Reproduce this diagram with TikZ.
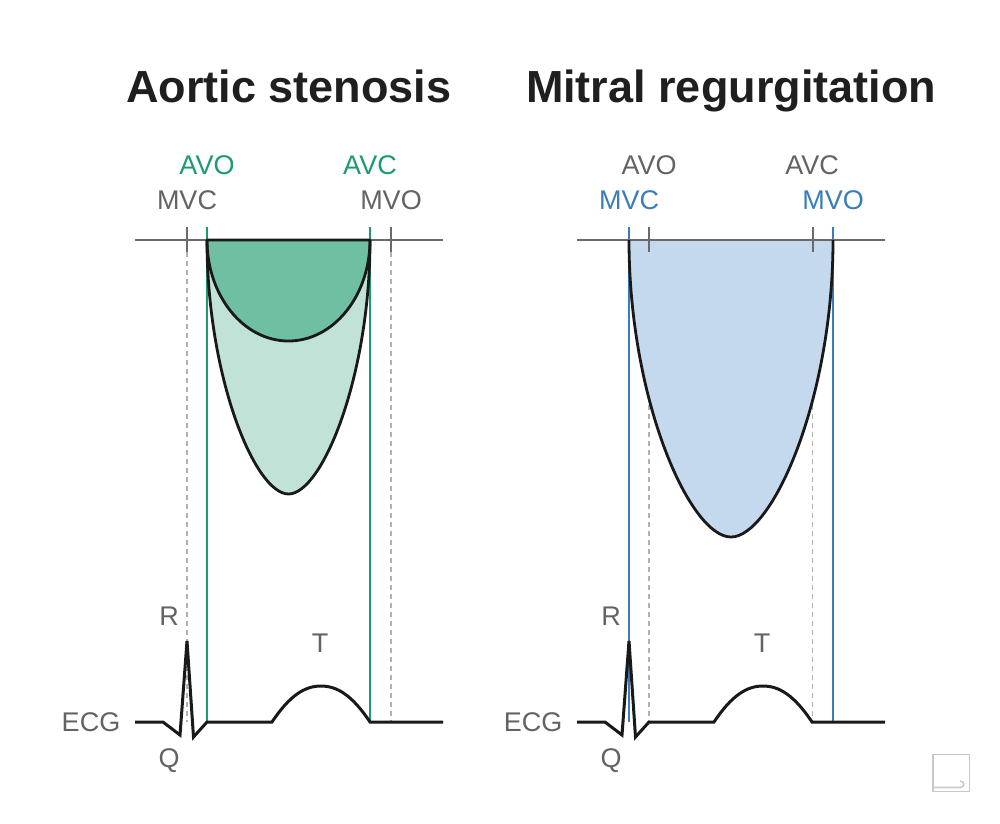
\documentclass[tikz,border=0pt]{standalone}
\usepackage{fontspec}
\setmainfont{Liberation Sans}
\definecolor{txtgray}{HTML}{636363}
\definecolor{axgray}{HTML}{6A6A6A}
\definecolor{dashgray}{HTML}{B0B0B0}
\definecolor{asgreen}{HTML}{1C9A72}
\definecolor{darkfill}{HTML}{6FBFA3}
\definecolor{lightfill}{HTML}{C0E2D7}
\definecolor{mrblue}{HTML}{3A7DBA}
\definecolor{bluefill}{HTML}{C4D9EE}
\definecolor{icongray}{HTML}{C8C8C8}
\tikzset{
  title/.style={font=\fontsize{45}{50}\selectfont\bfseries, text=black!88, inner sep=0, anchor=base},
  lbl/.style={font=\fontsize{27}{30}\selectfont, inner sep=0},
  axisline/.style={draw=axgray, line width=2.4pt},
  tickline/.style={draw=axgray, line width=2pt},
  guide/.style={draw=dashgray, line width=1.1pt, dash pattern=on 5pt off 4pt},
  greenline/.style={draw=asgreen, line width=2pt},
  blueline/.style={draw=mrblue, line width=2pt},
  outline/.style={draw=black!90, line width=2.8pt, line join=round},
  ecgline/.style={draw=black!90, line width=3pt},
  iconline/.style={draw=icongray, line width=1.6pt},
}
\begin{document}
\begin{tikzpicture}[x=1pt,y=-1pt]
\useasboundingbox (0,0) rectangle (1000,823);

% ---------- titles ----------
\node[title] (t1) at (289,102) {Aortic stenosis};
\node[title] (t2) at (731,102) {Mitral regurgitation};

% ---------- LEFT PANEL ----------
\coordinate (LaxA) at (135,240); \coordinate (LaxB) at (443,240);
\coordinate (LmvcT) at (187,227); \coordinate (LmvcB) at (187,252); \coordinate (LmvcE) at (187,722);
\coordinate (LmvoT) at (391,227); \coordinate (LmvoB) at (391,252); \coordinate (LmvoE) at (391,722);
\coordinate (LavoT) at (207,227); \coordinate (LavoE) at (207,722);
\coordinate (LavcT) at (370,227); \coordinate (LavcE) at (370,722);

\draw[guide] (LmvcB) -- (LmvcE);
\draw[guide] (LmvoB) -- (LmvoE);
\draw[greenline] (LavoT) -- (LavoE);
\draw[greenline] (LavcT) -- (LavcE);

% light (outer) region
\path[fill=lightfill] (207,240) .. controls (207,377) and (255,494) .. (288.5,494)
      .. controls (322,494) and (370,377) .. (370,240) -- cycle;
% dark (inner) region
\path[fill=darkfill] (207,240) .. controls (207,295.8) and (243.5,341) .. (288.5,341)
      .. controls (333.5,341) and (370,295.8) .. (370,240) -- cycle;
\draw[axisline] (LaxA) -- (LaxB);
\draw[outline] (207,240) .. controls (207,295.8) and (243.5,341) .. (288.5,341)
      .. controls (333.5,341) and (370,295.8) .. (370,240);
\draw[outline] (207,240) .. controls (207,377) and (255,494) .. (288.5,494)
      .. controls (322,494) and (370,377) .. (370,240) -- cycle;
\draw[tickline] (LmvcT) -- (LmvcB);
\draw[tickline] (LmvoT) -- (LmvoB);

\node[lbl, text=asgreen] (LavoL) at (207,165) {AVO};
\node[lbl, text=asgreen] (LavcL) at (370,165) {AVC};
\node[lbl, text=txtgray] (LmvcL) at (187,200) {MVC};
\node[lbl, text=txtgray] (LmvoL) at (391,200) {MVO};

% ECG left
\draw[ecgline] (135,722) -- (163,722) -- (180,735) -- (187,641) -- (193.5,737) -- (207,722)
   -- (272,722) .. controls (290,695) and (305,686) .. (321,686)
   .. controls (337,686) and (352,695) .. (370,722) -- (443,722);
\node[lbl, text=txtgray] (LecgL) at (91,722) {ECG};
\node[lbl, text=txtgray] (LrL) at (169,616) {R};
\node[lbl, text=txtgray] (LqL) at (169,761) {Q};
\node[lbl, text=txtgray] (LtL) at (320,643) {T};

% ---------- RIGHT PANEL ----------
\coordinate (RaxA) at (577,240); \coordinate (RaxB) at (885,240);
\coordinate (RavoT) at (649,227); \coordinate (RavoB) at (649,252); \coordinate (RavoE) at (649,722);
\coordinate (RavcT) at (812.5,227); \coordinate (RavcB) at (812.5,252); \coordinate (RavcE) at (812.5,722);
\coordinate (RmvcT) at (629,227); \coordinate (RmvcE) at (629,722);
\coordinate (RmvoT) at (833,227); \coordinate (RmvoE) at (833,722);

\draw[guide] (RavoB) -- (RavoE);
\draw[guide] (RavcB) -- (RavcE);
\path[fill=bluefill] (629,240) .. controls (629,400) and (690,537) .. (731,537)
      .. controls (772,537) and (833,400) .. (833,240) -- cycle;
\draw[blueline] (RmvcT) -- (RmvcE);
\draw[blueline] (RmvoT) -- (RmvoE);
\draw[axisline] (RaxA) -- (RaxB);
\draw[outline] (629,240) .. controls (629,400) and (690,537) .. (731,537)
      .. controls (772,537) and (833,400) .. (833,240);
\draw[tickline] (RavoT) -- (RavoB);
\draw[tickline] (RavcT) -- (RavcB);

\node[lbl, text=txtgray] (RavoL) at (649,165) {AVO};
\node[lbl, text=txtgray] (RavcL) at (812,165) {AVC};
\node[lbl, text=mrblue] (RmvcL) at (629,200) {MVC};
\node[lbl, text=mrblue] (RmvoL) at (833,200) {MVO};

% ECG right
\draw[ecgline] (577,722) -- (605,722) -- (622,735) -- (629,641) -- (635.5,737) -- (649,722)
   -- (714,722) .. controls (732,695) and (747,686) .. (763,686)
   .. controls (779,686) and (794,695) .. (812,722) -- (885,722);
\node[lbl, text=txtgray] (RecgL) at (533,722) {ECG};
\node[lbl, text=txtgray] (RrL) at (611,616) {R};
\node[lbl, text=txtgray] (RqL) at (611,761) {Q};
\node[lbl, text=txtgray] (RtL) at (762,643) {T};

% ---------- corner icon ----------
\draw[iconline] (933,754.5) rectangle (969.5,791.5);
\draw[iconline] (933,787.5) -- (960,787.5) .. controls (965,787.5) and (965,781) .. (960,781);
\end{tikzpicture}
\end{document}
